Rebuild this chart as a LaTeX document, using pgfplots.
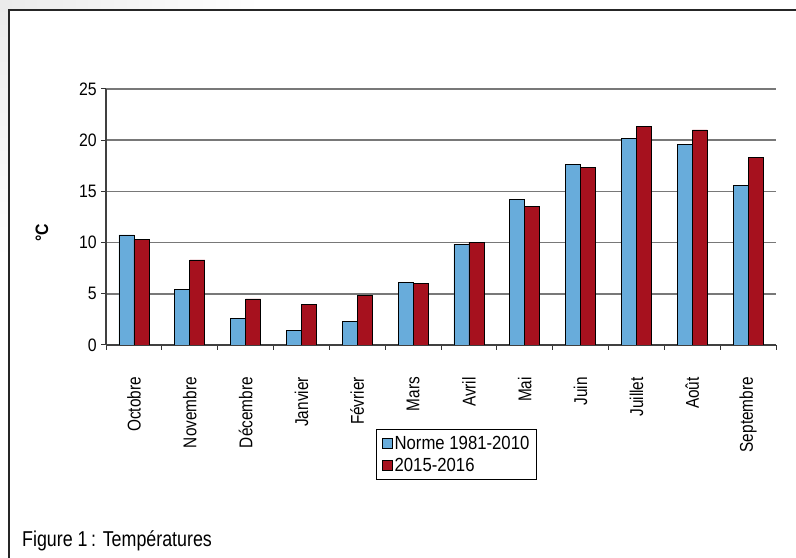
\documentclass[border=0pt]{standalone}
\usepackage{pgfplots}
\pgfplotsset{compat=1.18}
\usepackage{fontspec}
\setmainfont{Liberation Sans}[FakeStretch=0.88]
\newfontfamily\narrowfont{Liberation Sans}[FakeStretch=0.83]

\definecolor{normeblue}{RGB}{104,172,219}
\definecolor{anneered}{RGB}{166,17,30}
\definecolor{gridgray}{RGB}{120,120,120}

\newcommand{\fs}[1]{\fontsize{#1bp}{#1bp}\selectfont}

\begin{document}
\begin{tikzpicture}[x=1bp,y=1bp]
  % page area
  \path[use as bounding box] (0,0) rectangle (796,558);
  % light shadow in the top-left corner
  \shade[left color=black!8, right color=white] (0,548) rectangle (260,558);
  \shade[top color=black!8, bottom color=white] (0,558) rectangle (9,300);
  % frame around the figure
  \draw[overlay, line width=1.6bp, black!85] (9,-20) -- (9,548) -- (820,548);

  \begin{axis}[
    at={(106bp,213bp)}, anchor=south west,
    scale only axis, width=670bp, height=256bp,
    xmin=-0.5, xmax=11.5, ymin=0, ymax=25,
    axis x line=bottom, axis y line=left,
    axis line style={-, draw=black!75, line width=1.2bp},
    ytick={0,5,...,25},
    ymajorgrids,
    grid style={draw=gridgray, line width=1.7bp},
    % tick marks between the months
    xtick={-0.5,0.5,...,11.5},
    xticklabels={},
    % month names under each pair of bars
    extra x ticks={0,1,...,11},
    extra x tick labels={Octobre,Novembre,Décembre,Janvier,Février,Mars,Avril,Mai,Juin,Juillet,Août,Septembre},
    extra x tick style={major tick length=0pt},
    tick align=outside,
    major tick length=5bp,
    tick style={draw=black!80, line width=1bp},
    /pgf/number format/assume math mode=true,
    yticklabel style={font=\fs{18}, inner sep=1bp, xshift=-3bp},
    xticklabel style={font=\narrowfont\fs{18.5}, yshift=-32bp, rotate=90, anchor=east, inner sep=0bp},
    ybar=0pt, bar width=15bp,
    legend style={
      at={(0.403,-0.328)}, anchor=north west,
      font=\fs{19}, draw=black, line width=0.8bp,
      inner xsep=6bp, inner ysep=5bp, row sep=3bp,
      legend cell align=left,
      nodes={inner xsep=1.5bp},
    },
    legend image code/.code={
      \draw[#1, draw=black, line width=0.7bp] (0bp,-5bp) rectangle (10bp,5bp);
    },
  ]
    \addplot[fill=normeblue, draw=black, line width=0.8bp] coordinates {
      (0,10.75) (1,5.45) (2,2.6) (3,1.4) (4,2.3) (5,6.1)
      (6,9.85) (7,14.25) (8,17.65) (9,20.2) (10,19.6) (11,15.6)
    };
    \addplot[fill=anneered, draw=black, line width=0.8bp] coordinates {
      (0,10.3) (1,8.3) (2,4.5) (3,3.95) (4,4.8) (5,6.0)
      (6,10.05) (7,13.55) (8,17.35) (9,21.3) (10,21.0) (11,18.35)
    };
    \legend{Norme 1981-2010, 2015-2016}
  \end{axis}

  % axis title and figure caption
  \node[rotate=90, font=\fs{18}\bfseries] at (42,325) {°C};
  \node[anchor=base west, font=\narrowfont\fs{21.5}, inner sep=0bp] at (22,11) {Figure 1\,: Températures};
\end{tikzpicture}
\end{document}
